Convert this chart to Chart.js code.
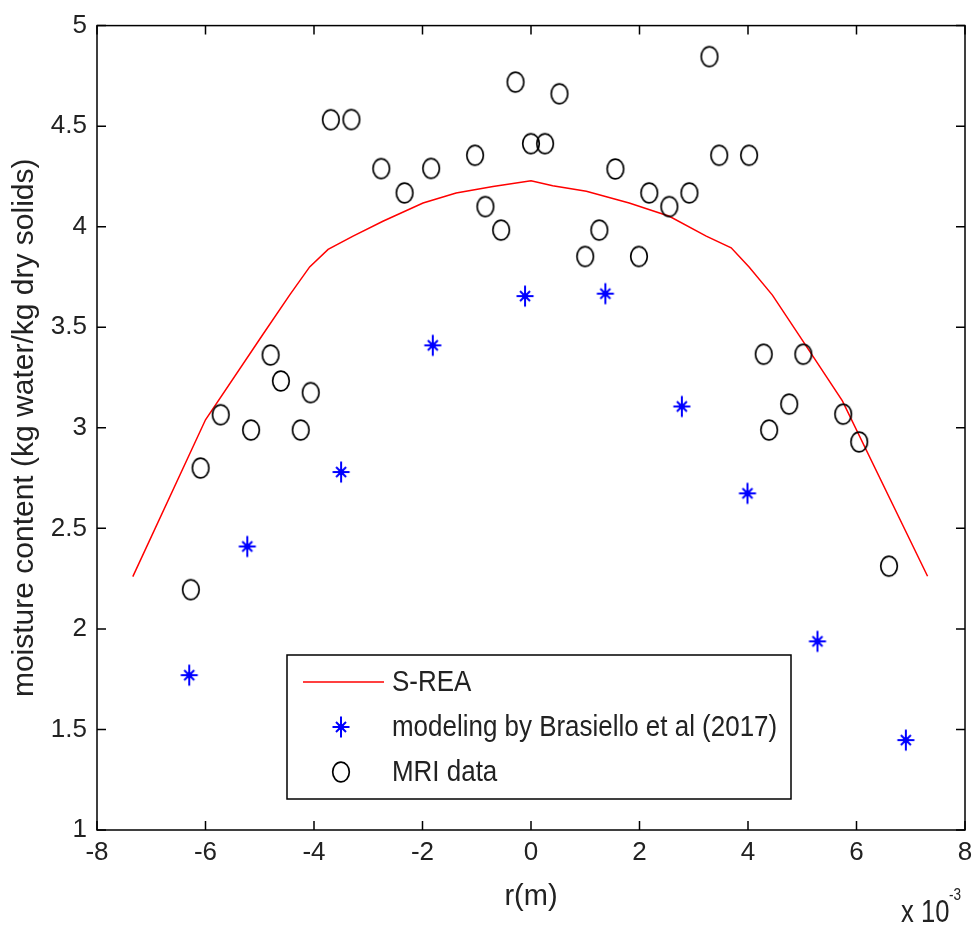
<!DOCTYPE html>
<html>
<head>
<meta charset="utf-8">
<script src="https://cdn.jsdelivr.net/npm/chart.js@4/dist/chart.umd.min.js"></script>
<style>
  body { margin: 0; background: #fff; overflow: hidden; }
  #wrap { position: relative; width: 976px; height: 929px; }
  #chart { display: block; }
  .expo {
    position: absolute; white-space: nowrap; color: #222;
    font-family: "Liberation Sans", Arial, sans-serif;
    transform: scaleX(0.8); transform-origin: left top;
  }
  #expoBase { left: 901px; top: 895px; font-size: 32px; line-height: 32px; }
  #expoPow { left: 949px; top: 886px; font-size: 17px; line-height: 17px; }
</style>
</head>
<body>
<div id="wrap">
  <canvas id="chart" width="976" height="929"></canvas>
  <div class="expo" id="expoBase">x 10</div>
  <div class="expo" id="expoPow">-3</div>
</div>
<script>
// r in units of 1e-3 m, moisture in kg water / kg dry solids
const sreaR = [-7.34, -6.0, -4.94, -4.45, -4.08, -3.74, -3.28, -2.73, -1.99, -1.38, -0.7, 0,
               0.4, 1.02, 1.81, 2.55, 3.23, 3.69, 4.02, 4.45, 5.01, 5.74, 7.31];
const sreaM = [2.26, 3.04, 3.465, 3.66, 3.80, 3.887, 3.953, 4.027, 4.118, 4.168, 4.20, 4.229,
               4.204, 4.176, 4.118, 4.052, 3.953, 3.895, 3.80, 3.66, 3.432, 3.134, 2.262];

const modelR = [-6.30, -5.23, -3.50, -1.81, -0.11, 1.37, 2.78, 3.99, 5.28, 6.91];
const modelM = [1.77, 2.41, 2.78, 3.41, 3.655, 3.667, 3.106, 2.674, 1.938, 1.447];

const mriR = [-6.27, -6.09, -5.72, -5.16, -4.80, -4.61, -4.245, -4.06, -3.69, -3.31, -2.76, -2.33,
              -1.84, -1.03, -0.84, -0.55, -0.285, 0.0, 0.26, 0.525, 1.00, 1.26, 1.556, 1.99,
              2.18, 2.55, 2.92, 3.29, 3.47, 4.02, 4.29, 4.39, 4.76, 5.02, 5.755, 6.05, 6.60];
const mriM = [2.195, 2.80, 3.065, 2.989, 3.362, 3.233, 2.989, 3.175, 4.532, 4.533, 4.289, 4.168,
              4.29, 4.355, 4.10, 3.983, 4.719, 4.413, 4.413, 4.661, 3.852, 3.983, 4.287, 3.852,
              4.168, 4.10, 4.168, 4.846, 4.355, 4.355, 3.366, 2.989, 3.118, 3.366, 3.068, 2.930, 2.312];

const legendLabels = ["S-REA", "modeling by Brasiello et al (2017)", "MRI data"];

const fontFamily = '"Liberation Sans", Arial, sans-serif';

function pairs(xs, ys) {
    return xs.map((x, i) => ({ x: x, y: ys[i] }));
}

// marker images: the original markers are slightly taller than wide
function makeCircleMarker() {
    const c = document.createElement("canvas");
    c.width = 22; c.height = 26;
    const g = c.getContext("2d");
    g.strokeStyle = "#000";
    g.lineWidth = 1.7;
    g.beginPath();
    g.ellipse(11, 13, 8.3, 9.8, 0, 0, Math.PI * 2);
    g.stroke();
    return c;
}

function makeStarMarker() {
    const c = document.createElement("canvas");
    c.width = 22; c.height = 26;
    const g = c.getContext("2d");
    g.strokeStyle = "#0000ff";
    g.lineWidth = 2;
    g.beginPath();
    g.moveTo(11, 2.5); g.lineTo(11, 23.5);
    g.moveTo(2.5, 13); g.lineTo(19.5, 13);
    g.moveTo(6, 8); g.lineTo(16, 18);
    g.moveTo(6, 18); g.lineTo(16, 8);
    g.stroke();
    g.fillStyle = "#0000ff";
    g.beginPath();
    g.arc(11, 13, 3, 0, Math.PI * 2);
    g.fill();
    return c;
}

// box around the plot area with inward tick marks
const boxPlugin = {
    id: "box",
    afterDraw(chart) {
        const ctx = chart.ctx;
        const a = chart.chartArea;
        const xs = chart.scales.x;
        const ys = chart.scales.y;
        const len = 9;
        ctx.save();
        ctx.strokeStyle = "#000";
        ctx.lineWidth = 1.5;
        ctx.strokeRect(a.left, a.top, a.right - a.left, a.bottom - a.top);
        ctx.beginPath();
        xs.ticks.forEach((t) => {
            const px = xs.getPixelForValue(t.value);
            ctx.moveTo(px, a.bottom); ctx.lineTo(px, a.bottom - len);
            ctx.moveTo(px, a.top); ctx.lineTo(px, a.top + len);
        });
        ys.ticks.forEach((t) => {
            const py = ys.getPixelForValue(t.value);
            ctx.moveTo(a.left, py); ctx.lineTo(a.left + len, py);
            ctx.moveTo(a.right, py); ctx.lineTo(a.right - len, py);
        });
        ctx.stroke();
        ctx.restore();
    }
};

// boxed legend inside the plot, like the original
const legendPlugin = {
    id: "boxLegend",
    afterDraw(chart) {
        const ctx = chart.ctx;
        const x0 = 287, y0 = 655, w = 504, h = 144;
        ctx.save();
        ctx.fillStyle = "#fff";
        ctx.fillRect(x0, y0, w, h);
        ctx.strokeStyle = "#000";
        ctx.lineWidth = 1.5;
        ctx.strokeRect(x0, y0, w, h);

        const rows = [682, 727, 772];
        const sx = 341;
        ctx.strokeStyle = "#ff0000";
        ctx.lineWidth = 1.5;
        ctx.beginPath();
        ctx.moveTo(303, rows[0]); ctx.lineTo(384, rows[0]);
        ctx.stroke();

        const star = chart.data.datasets[1].pointStyle;
        const ring = chart.data.datasets[2].pointStyle;
        ctx.drawImage(star, sx - star.width / 2, rows[1] - star.height / 2);
        ctx.drawImage(ring, sx - ring.width / 2, rows[2] - ring.height / 2);

        ctx.fillStyle = "#222";
        ctx.font = "30px " + fontFamily;
        ctx.textBaseline = "middle";
        ctx.textAlign = "left";
        legendLabels.forEach((txt, i) => {
            ctx.save();
            ctx.translate(392, rows[i] + 1);
            ctx.scale(0.865, 1);
            ctx.fillText(txt, 0, 0);
            ctx.restore();
        });
        ctx.restore();
    }
};

document.addEventListener("DOMContentLoaded", function () {
    Chart.defaults.font.family = fontFamily;
    Chart.defaults.color = "#222";

    const canvas = document.getElementById("chart");
    new Chart(canvas.getContext("2d"), {
        type: "scatter",
        data: {
            datasets: [
                {
                    label: legendLabels[0],
                    data: pairs(sreaR, sreaM),
                    showLine: true,
                    borderColor: "#ff0000",
                    borderWidth: 1.5,
                    pointRadius: 0,
                    tension: 0,
                    order: 3
                },
                {
                    label: legendLabels[1],
                    data: pairs(modelR, modelM),
                    pointStyle: makeStarMarker(),
                    pointRadius: 10,
                    borderColor: "#0000ff",
                    backgroundColor: "#0000ff",
                    order: 2
                },
                {
                    label: legendLabels[2],
                    data: pairs(mriR, mriM),
                    pointStyle: makeCircleMarker(),
                    pointRadius: 10,
                    borderColor: "#000",
                    backgroundColor: "rgba(0,0,0,0)",
                    order: 1
                }
            ]
        },
        options: {
            responsive: false,
            animation: false,
            layout: { padding: { left: 0, top: 24, right: 10, bottom: 0 } },
            plugins: {
                legend: { display: false },
                tooltip: { enabled: false }
            },
            scales: {
                x: {
                    type: "linear",
                    min: -8,
                    max: 8,
                    grid: { display: false, drawTicks: false },
                    border: { display: false },
                    // taller line height pushes the labels down without widening the side padding
                    ticks: { stepSize: 2, padding: 3, font: { size: 26, lineHeight: 1.5 }, maxRotation: 0 },
                    title: { display: true, text: "r(m)", font: { size: 29 }, padding: { top: 0, bottom: 15 } },
                    afterFit(scale) { scale.height = 99; }
                },
                y: {
                    min: 1,
                    max: 5,
                    grid: { display: false, drawTicks: false },
                    border: { display: false },
                    ticks: {
                        stepSize: 0.5,
                        padding: 10,
                        font: { size: 26 },
                        callback: (v) => String(v)
                    },
                    title: {
                        display: true,
                        text: "moisture content (kg water/kg dry solids)",
                        font: { size: 30 },
                        padding: { top: 7, bottom: 0 }
                    },
                    afterFit(scale) { scale.width = 97; }
                }
            }
        },
        plugins: [boxPlugin, legendPlugin]
    });
});
</script>
</body>
</html>
